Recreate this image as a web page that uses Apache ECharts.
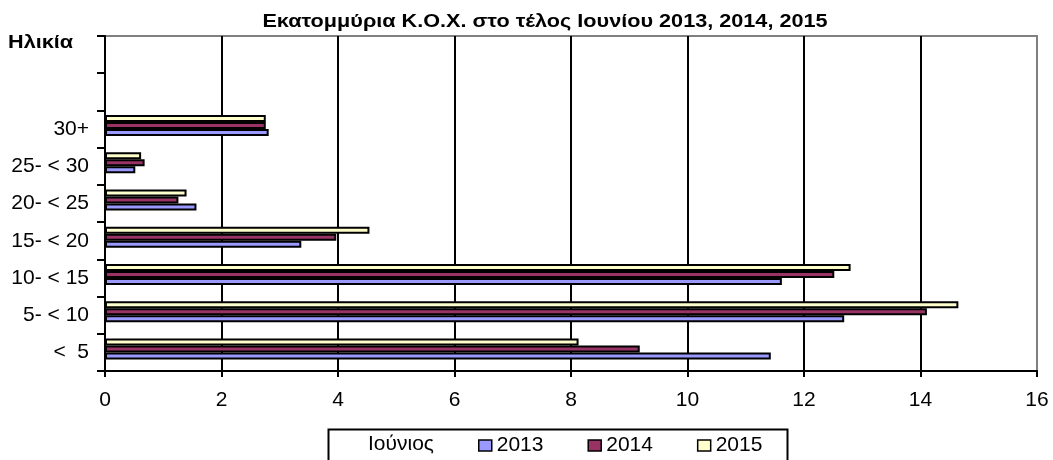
<!DOCTYPE html>
<html>
<head>
<meta charset="utf-8">
<script src="https://cdn.jsdelivr.net/npm/echarts@6/dist/echarts.min.js"></script>
<style>
html,body{margin:0;padding:0;background:#fff;}
#chart{width:1053px;height:460px;}
</style>
</head>
<body>
<div id="chart"></div>
<script>
// Data (categories listed bottom to top)
var categories = ['<  5', '5- < 10', '10- < 15', '15- < 20', '20- < 25', '25- < 30', '30+', ' ', '  '];
var v2013 = [11.43, 12.69, 11.62, 3.37, 1.57, 0.52, 2.81];
var v2014 = [9.18, 14.11, 12.52, 3.97, 1.26, 0.68, 2.76];
var v2015 = [8.13, 14.65, 12.80, 4.54, 1.40, 0.62, 2.76];
var seriesNames = ['2013', '2014', '2015'];
var xTicks = [0, 2, 4, 6, 8, 10, 12, 14, 16];
var titleText = 'Εκατομμύρια Κ.Ο.Χ. στο τέλος Ιουνίου 2013, 2014, 2015';
var yTitleText = 'Ηλικία';
var legendTitle = 'Ιούνιος';

var FONT = "'Liberation Sans', Arial, sans-serif";
var colors = {'2013': '#9999FF', '2014': '#993366', '2015': '#FFFFCC'};
var values = {'2013': v2013, '2014': v2014, '2015': v2015};

function barSeries(name) {
  return {
    name: name, type: 'bar', data: values[name],
    barWidth: 7, barGap: '0%',
    itemStyle: {color: colors[name], borderColor: '#000', borderWidth: 2},
    emphasis: {disabled: true}
  };
}

var chart = echarts.init(document.getElementById('chart'));
chart.setOption({
  animation: false,
  grid: {left: 105, right: 16, top: 36, bottom: 89, show: true, borderColor: '#808080', borderWidth: 2},
  xAxis: {
    type: 'value', min: xTicks[0], max: xTicks[xTicks.length - 1], interval: 2,
    axisLine: {show: true, lineStyle: {color: '#000', width: 2}},
    axisTick: {show: true, length: 6, lineStyle: {color: '#000', width: 2}},
    axisLabel: {margin: 19, fontFamily: FONT, fontSize: 21, color: '#000'},
    splitLine: {show: true, lineStyle: {color: ['#000','#000','#000','#000','#000','#000','#000','#000','#808080'], width: 2}}
  },
  yAxis: {
    type: 'category', data: categories,
    axisLine: {show: true, lineStyle: {color: '#000', width: 2}},
    axisTick: {show: true, length: 8, lineStyle: {color: '#000', width: 2}},
    axisLabel: {margin: 16, fontFamily: FONT, fontSize: 21, color: '#000'},
    splitLine: {show: false}
  },
  legend: {
    data: seriesNames, left: 473, top: 430, orient: 'horizontal',
    itemWidth: 13, itemHeight: 11, itemGap: 44, icon: 'rect',
    itemStyle: {borderColor: '#000', borderWidth: 1.5},
    textStyle: {fontFamily: FONT, fontSize: 21, color: '#000'},
    selectedMode: false
  },
  graphic: [
    {type: 'text', x: 545, y: 22, scaleX: 1.17, silent: true,
     style: {text: titleText, font: 'bold 18.5px ' + FONT, fill: '#000', align: 'center', verticalAlign: 'middle'}},
    {type: 'text', x: 8, y: 42.5, scaleX: 1.17, silent: true,
     style: {text: yTitleText, font: 'bold 18.5px ' + FONT, fill: '#000', align: 'left', verticalAlign: 'middle'}},
    {type: 'rect', left: 326, top: 427, shape: {width: 459, height: 45},
     style: {fill: 'none', stroke: '#000', lineWidth: 2}, z: 0},
    {type: 'text', x: 368, y: 444, silent: true,
     style: {text: legendTitle, font: '21px ' + FONT, fill: '#000', align: 'left', verticalAlign: 'middle'}}
  ],
  series: [barSeries('2015'), barSeries('2014'), barSeries('2013'),
    {name: '_pad', type: 'bar', data: [], barWidth: 7, barGap: '0%', silent: true}]
});
</script>
</body>
</html>
